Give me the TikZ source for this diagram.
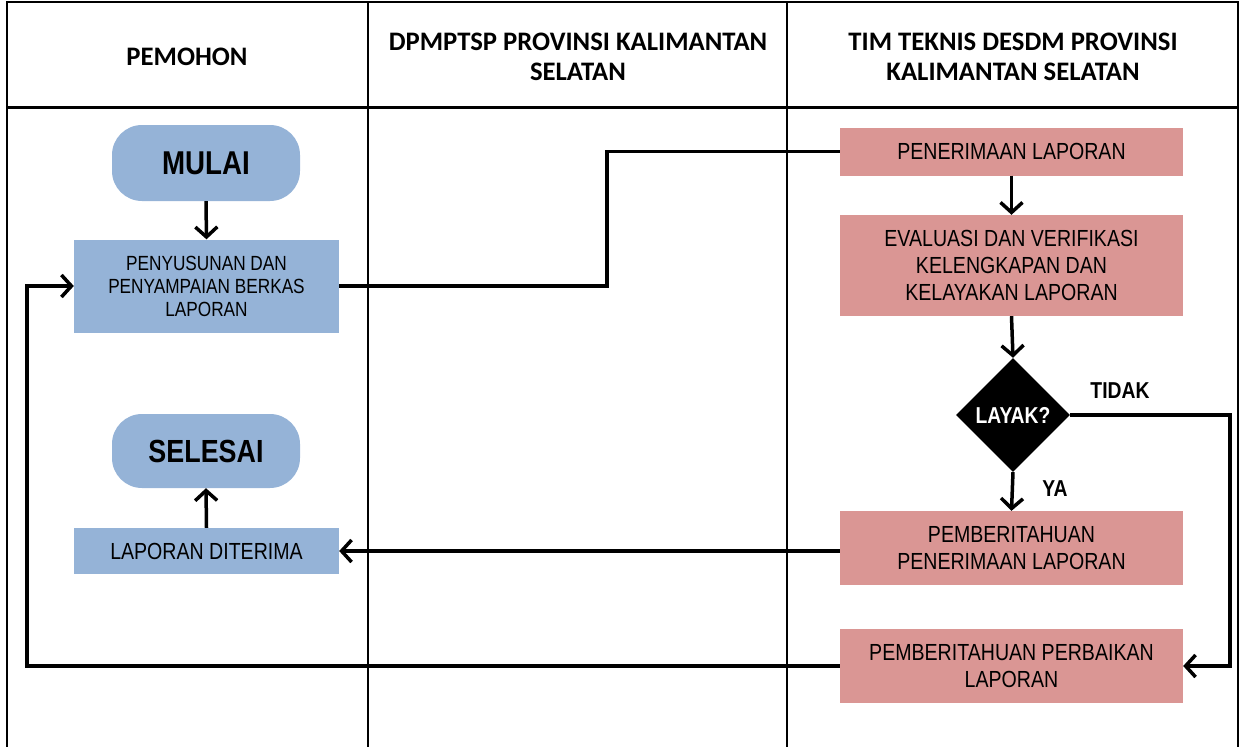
\documentclass[tikz,border=0pt]{standalone}
\usepackage{fontspec}
\usepackage{xcolor}
\usepackage{tikz}
\usetikzlibrary{shapes.geometric,arrows.meta}
\newfontfamily\boxfont{Liberation Sans}[FakeStretch=0.84]
\newfontfamily\headfont{Carlito}
\definecolor{lajurbiru}{HTML}{95B3D7}
\definecolor{lajurmerah}{HTML}{DA9694}

\begin{document}
\begin{tikzpicture}[x=1pt, y=-1pt,
  bluebox/.style={fill=lajurbiru, minimum width=265pt, align=center, inner sep=0pt, font=\boxfont\fontsize{23.3}{27}\selectfont},
  redbox/.style={fill=lajurmerah, minimum width=343pt, align=center, inner sep=0pt, font=\boxfont\fontsize{23.3}{27}\selectfont},
  startend/.style={fill=lajurbiru, rounded corners=30pt, minimum width=188pt, font=\boxfont\bfseries\fontsize{33}{36}\selectfont},
  conn/.style={line width=3.5pt},
  arr/.style={conn, -{Straight Barb[length=10pt, width=22pt]}},
  headtext/.style={align=center, font=\headfont\bfseries\fontsize{26.7}{30}\selectfont},
  yesno/.style={font=\boxfont\bfseries\fontsize{23}{26}\selectfont}]
  \useasboundingbox (0,0) rectangle (1240,747);
  % tabel lajur
  \draw[line width=2.5pt] (7,747) -- (7,2) -- (1238,2) -- (1238,747);
  \draw[line width=3pt] (7,107) -- (1238,107);
  \draw[line width=2pt] (368,2) -- (368,747);
  \draw[line width=2pt] (787,2) -- (787,747);
  \node[headtext] (hpemohon) at (187,57) {PEMOHON};
  \node[headtext] (hdpmptsp) at (578,57) {DPMPTSP PROVINSI KALIMANTAN\\SELATAN};
  \node[headtext] (htim) at (1013,57) {TIM TEKNIS DESDM PROVINSI\\KALIMANTAN SELATAN};
  % pemohon
  \node[startend, minimum height=76pt] (mulai) at (206,163) {MULAI};
  \node[bluebox, minimum height=93pt, font=\boxfont\fontsize{20.5}{23}\selectfont] (susun) at (206.5,286) {PENYUSUNAN DAN\\PENYAMPAIAN BERKAS\\LAPORAN};
  \node[startend, minimum height=74pt, font=\boxfont\bfseries\fontsize{32}{36}\selectfont] (selesai) at (206,451) {SELESAI};
  \node[bluebox, minimum height=46pt] (terima) at (206.5,551) {LAPORAN DITERIMA};
  % tim teknis
  \node[redbox, minimum height=48pt] (penerimaan) at (1011.5,151.5) {PENERIMAAN LAPORAN};
  \node[redbox, minimum height=101pt] (evaluasi) at (1011.5,265.5) {EVALUASI DAN VERIFIKASI\\KELENGKAPAN DAN\\KELAYAKAN LAPORAN};
  \node[diamond, fill=black, text=white, minimum width=114pt, minimum height=114pt, inner sep=0pt, font=\boxfont\bfseries\fontsize{23}{26}\selectfont] (layak) at (1013,415) {LAYAK?};
  \node[redbox, minimum height=74pt] (pemberitahuan) at (1011.5,548) {PEMBERITAHUAN\\PENERIMAAN LAPORAN};
  \node[redbox, minimum height=74pt] (perbaikan) at (1011.5,666) {PEMBERITAHUAN PERBAIKAN\\LAPORAN};
  \node[yesno] (tidak) at (1120,391) {TIDAK};
  \node[yesno] (ya) at (1055,489) {YA};
  % alur
  \draw[arr] (mulai.south) -- (susun.north);
  \draw[conn] (susun.east) -- ++(268,0) |- (penerimaan.west);
  \draw[arr] (penerimaan.south) -- (evaluasi.north);
  \draw[arr] (evaluasi.south) -- (layak.north);
  \draw[arr] (layak.south) -- (pemberitahuan.north);
  \draw[arr] (layak.east) -- ++(160,0) |- (perbaikan.east);
  \draw[arr] (pemberitahuan.west |- terima.east) -- (terima.east);
  \draw[arr] (perbaikan.west) -- ++(-813,0) |- (susun.west);
  \draw[arr] (terima.north) -- (selesai.south);
\end{tikzpicture}
\end{document}
